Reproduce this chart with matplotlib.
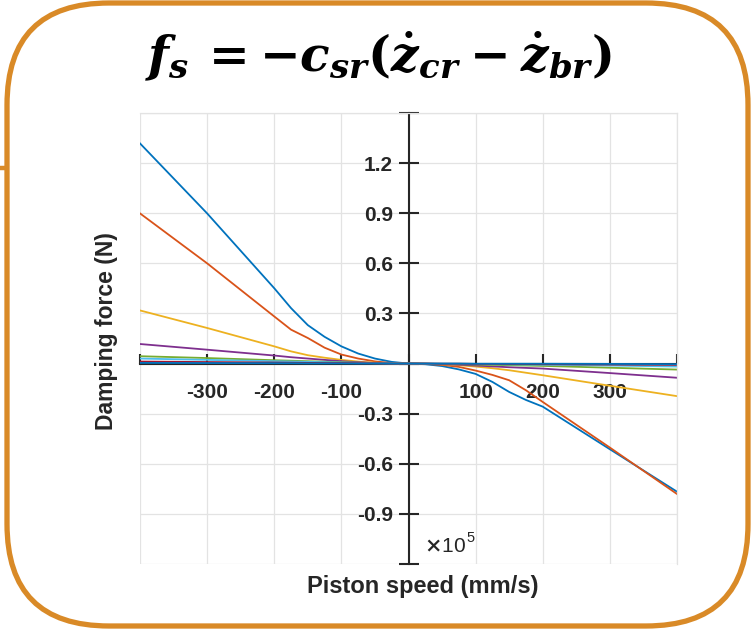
import numpy as np
import matplotlib
matplotlib.use("Agg")
import matplotlib.pyplot as plt
from matplotlib.patches import FancyBboxPatch

plt.rcParams['font.family'] = ['Liberation Sans', 'DejaVu Sans']
plt.rcParams['mathtext.fontset'] = 'custom'
plt.rcParams['mathtext.rm'] = 'DejaVu Serif:bold'
plt.rcParams['mathtext.it'] = 'DejaVu Serif:italic:bold'
plt.rcParams['mathtext.bf'] = 'DejaVu Serif:bold'

# piston speed (mm/s)
speed = [-400, -300, -200, -175, -150, -125, -100, -75, -50, -25, 0,
         25, 50, 75, 100, 125, 150, 175, 200, 300, 400]

# damping force (x1e5 N), one list per curve
f1 = [1.318, 0.899, 0.451, 0.332, 0.230, 0.160, 0.103, 0.060, 0.030, 0.010, 0.0,
      -0.004, -0.015, -0.035, -0.062, -0.110, -0.170, -0.218, -0.258, -0.513, -0.767]
f2 = [0.899, 0.600, 0.282, 0.203, 0.153, 0.095, 0.054, 0.030, 0.013, 0.003, 0.0,
      -0.002, -0.008, -0.020, -0.042, -0.068, -0.100, -0.160, -0.230, -0.503, -0.781]
f3 = [0.318, 0.213, 0.103, 0.073, 0.050, 0.035, 0.022, 0.012, 0.005, 0.001, 0.0,
      -0.001, -0.004, -0.010, -0.018, -0.028, -0.040, -0.055, -0.070, -0.133, -0.195]
f4 = [0.117, 0.083, 0.048, 0.038, 0.030, 0.022, 0.014, 0.008, 0.003, 0.001, 0.0,
      -0.001, -0.003, -0.007, -0.012, -0.017, -0.022, -0.026, -0.030, -0.057, -0.085]
f5 = [0.044, 0.033, 0.020, 0.017, 0.014, 0.011, 0.008, 0.005, 0.002, 0.001, 0.0,
      -0.001, -0.002, -0.004, -0.006, -0.008, -0.010, -0.012, -0.014, -0.025, -0.036]
f6 = [0.030, 0.022, 0.014, 0.012, 0.010, 0.008, 0.006, 0.004, 0.002, 0.001, 0.0,
      -0.001, -0.001, -0.002, -0.003, -0.004, -0.005, -0.006, -0.007, -0.012, -0.018]
f7 = [0.012, 0.009, 0.006, 0.005, 0.004, 0.003, 0.003, 0.002, 0.001, 0.0, 0.0,
      0.0, -0.001, -0.001, -0.002, -0.002, -0.003, -0.003, -0.004, -0.006, -0.008]
f8 = [0.004, 0.003, 0.002, 0.002, 0.001, 0.001, 0.001, 0.0, 0.0, 0.0, 0.0,
      0.0, 0.0, 0.0, -0.001, -0.001, -0.001, -0.001, -0.001, -0.002, -0.004]

curves = [f1, f2, f3, f4, f5, f6, f7, f8]
colors = ['#0072BD', '#D95319', '#EDB120', '#7E2F8E', '#77AC30', '#4DBEEE', '#A2142F', '#0072BD']

xticks = [-400, -300, -200, -100, 0, 100, 200, 300, 400]
yticks = [-1.2, -0.9, -0.6, -0.3, 0, 0.3, 0.6, 0.9, 1.2, 1.5]

W, H = 752, 631
fig = plt.figure(figsize=(W / 100, H / 100), dpi=100)

# background frame in pixel units
bg = fig.add_axes([0, 0, 1, 1], zorder=0)
bg.set_xlim(0, W)
bg.set_ylim(H, 0)
bg.axis('off')
frame = FancyBboxPatch((7, 3), 741, 623, boxstyle="round,pad=0,rounding_size=102",
                       fill=False, ec='#D98A27', lw=3.8)
bg.add_patch(frame)
bg.plot([0, 8], [168, 168], color='#D98A27', lw=3.2, solid_capstyle='butt')

fig.text(378 / W, 1 - 56 / H,
         r'$f_s\,= -c_{sr}(\dot{z}_{cr} - \dot{z}_{br})$',
         ha='center', va='center', fontsize=35, color='black')

ax = fig.add_axes([140 / W, (H - 564) / H, 537 / W, 451 / H], zorder=1)
ax.patch.set_alpha(0)
for y, c in zip(curves, colors):
    ax.plot(speed, y, color=c, lw=1.3)

ax.set_xlim(-400, 400)
ax.set_ylim(-1.2, 1.5)
ax.set_xticks(xticks)
ax.set_yticks(yticks)
ax.set_xticklabels(['' if v in (-400, 0, 400) else str(v) for v in xticks])
ax.set_yticklabels(['' if v in (0, 1.5, -1.2) else f'{v:.1f}' for v in yticks])
ax.grid(True, color='#E3E3E3', lw=0.9)
ax.set_axisbelow(True)

ax.spines['left'].set_position(('data', 0))
ax.spines['bottom'].set_position(('data', 0))
for s in ['left', 'bottom']:
    ax.spines[s].set_color('#262626')
    ax.spines[s].set_linewidth(1.5)
    ax.spines[s].set_zorder(1.5)
for s in ['top', 'right']:
    ax.spines[s].set_color('#E3E3E3')
    ax.spines[s].set_linewidth(0.9)

ax.tick_params(axis='x', direction='in', length=7, width=1.5, color='#262626',
               pad=14, labelsize=15, labelcolor='#262626')
ax.tick_params(axis='y', direction='inout', length=14, width=1.5, color='#262626',
               pad=4, labelsize=15, labelcolor='#262626')
for lab in ax.get_xticklabels() + ax.get_yticklabels():
    lab.set_fontweight('bold')

fig.text(106 / W, 1 - 331 / H, 'Damping force (N)', rotation=90, ha='center', va='center',
         fontsize=16.5, fontweight='bold', color='#262626')
fig.text(423 / W, 1 - 586 / H, 'Piston speed (mm/s)', ha='center', va='center',
         fontsize=17, fontweight='bold', color='#262626')
fig.text(424 / W, 1 - 546 / H, r'$\times$' + '10', ha='left', va='center',
         fontsize=15, color='#262626')
fig.text(466 / W, 1 - 538 / H, '5', ha='left', va='center', fontsize=10.5, color='#262626')

fig.savefig('out.png', dpi=100)
